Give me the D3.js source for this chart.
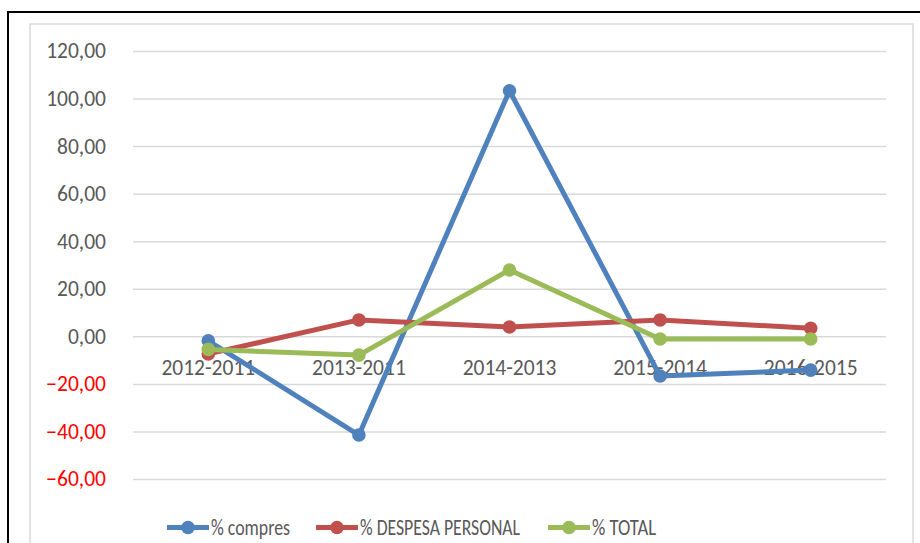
<!DOCTYPE html>
<html><head><meta charset="utf-8">
<script src="https://cdn.jsdelivr.net/npm/d3@7"></script>
<style>body{margin:0;background:#fff}svg{display:block}</style>
</head><body>
<script>
const categories = ["2012-2011","2013-2011","2014-2013","2015-2014","2016-2015"];
const compres = [-1.9, -41.5, 103.3, -16.7, -14.2];
const despesa = [-7.4, 6.9, 3.9, 6.9, 3.4];
const total = [-5.5, -7.9, 27.9, -1.1, -1.1];
const seriesNames = ["% compres","% DESPESA PERSONAL","% TOTAL"];
const yTicks = [120,100,80,60,40,20,0,-20,-40,-60];

// layout constants
const W=920,H=543;
const legendX=[167,316,548];
const legendTextW=[79,160,64];

const svg=d3.select("body").append("svg").attr("width",W).attr("height",H);
const font="Carlito, Calibri, Lato, sans-serif";
const fs=21.5;

// outer frame
svg.append("rect").attr("x",8).attr("y",12).attr("width",W+10).attr("height",H+10)
  .attr("fill","none").attr("stroke","#000").attr("stroke-width",2);
svg.append("rect").attr("x",30).attr("y",24).attr("width",883).attr("height",H+10)
  .attr("fill","#fff").attr("stroke","#d9d9d9").attr("stroke-width",1.5);

const x=d3.scaleBand().domain(categories).range([133,886]);
const y=d3.scaleLinear().domain([-60,120]).range([479,51]);

// gridlines
const yAxis=d3.axisLeft(y).tickValues(yTicks).tickSize(-(886-133)).tickPadding(27)
  .tickFormat(d=>d3.format(".2f")(d).replace(".",","));
const gy=svg.append("g").attr("transform","translate(133,0)").call(yAxis);
gy.select(".domain").remove();
gy.selectAll(".tick line").attr("stroke","#d9d9d9").attr("stroke-width",1.5);
gy.selectAll(".tick text").attr("font-family",font).attr("font-size",fs)
  .attr("fill",d=>d<0?"#ff0000":"#595959");

const colors=["#4f81bd","#c0504d","#9bbb59"];
const data=[compres,despesa,total];

// category labels at zero line
const gx=svg.append("g").attr("transform",`translate(0,${y(0)})`)
  .call(d3.axisBottom(x).tickSize(0).tickPadding(31));
gx.select(".domain").remove();
gx.selectAll(".tick text").attr("font-family",font).attr("font-size",fs).attr("fill","#595959")
  .attr("dy","0.35em");

const line=d3.line().x((d,i)=>x(categories[i])+x.bandwidth()/2).y(d=>y(d));
data.forEach((vals,k)=>{
  const g=svg.append("g");
  g.append("path").datum(vals).attr("d",line).attr("fill","none")
    .attr("stroke",colors[k]).attr("stroke-width",5).attr("stroke-linejoin","round");
  g.selectAll("circle").data(vals).join("circle")
    .attr("cx",(d,i)=>x(categories[i])+x.bandwidth()/2).attr("cy",d=>y(d))
    .attr("r",6.8).attr("fill",colors[k]);
});

// legend
seriesNames.forEach((n,k)=>{
  const g=svg.append("g").attr("transform",`translate(${legendX[k]},527.5)`);
  g.append("line").attr("x1",0).attr("x2",42).attr("stroke",colors[k]).attr("stroke-width",5);
  g.append("circle").attr("cx",21).attr("r",6.8).attr("fill",colors[k]);
  g.append("text").attr("x",44).attr("dy","0.35em").attr("font-family",font)
    .attr("font-size",21.5).attr("fill","#595959")
    .attr("textLength",legendTextW[k]).attr("lengthAdjust","spacingAndGlyphs").text(n);
});
</script>
</body></html>
